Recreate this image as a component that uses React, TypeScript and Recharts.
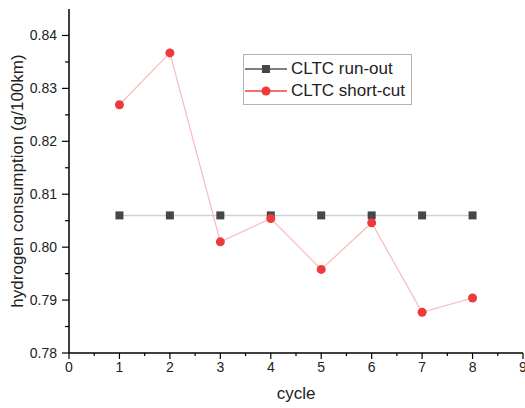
import React from "react";
import { Legend, Line, LineChart, XAxis, YAxis } from "recharts";

// ─── data ────────────────────────────────────────────────────────
const CYCLES = [1, 2, 3, 4, 5, 6, 7, 8];
const RUN_OUT = [0.806, 0.806, 0.806, 0.806, 0.806, 0.806, 0.806, 0.806];
const SHORT_CUT = [0.8269, 0.8367, 0.801, 0.8054, 0.7958, 0.8046, 0.7877, 0.7904];

const X_TICKS = [0, 0.5, 1, 1.5, 2, 2.5, 3, 3.5, 4, 4.5, 5, 5.5, 6, 6.5, 7, 7.5, 8, 8.5, 9];
const Y_TICKS = [
  0.78, 0.785, 0.79, 0.795, 0.8, 0.805, 0.81, 0.815, 0.82, 0.825, 0.83, 0.835, 0.84,
];

const SERIES_NAMES = ["CLTC run-out", "CLTC short-cut"];
const X_TITLE = "cycle";
const Y_TITLE = "hydrogen consumption (g/100km)";

const DATA = CYCLES.map((c, i) => ({ cycle: c, runOut: RUN_OUT[i], shortCut: SHORT_CUT[i] }));

const FONT = "'Liberation Sans', Arial, sans-serif";
const TEXT = "#222";

// 主 / 副 刻度 — 自己画刻度线
const XTick = ({ x, y, payload }: any) => {
  const major = Number.isInteger(payload.value);
  return (
    <g>
      <line x1={x} y1={y} x2={x} y2={y + (major ? 6 : 3)} stroke="#000" strokeWidth={1.2} />
      {major && (
        <text x={x} y={y + 19} textAnchor="middle" fontSize={14} fill={TEXT} fontFamily={FONT}>
          {payload.value}
        </text>
      )}
    </g>
  );
};

const YTick = ({ x, y, payload }: any) => {
  const major = Math.round(payload.value * 1000) % 10 === 0;
  return (
    <g>
      <line x1={x} y1={y} x2={x - (major ? 7 : 4)} y2={y} stroke="#000" strokeWidth={1.2} />
      {major && (
        <text x={x - 12} y={y + 5} textAnchor="end" fontSize={14} fill={TEXT} fontFamily={FONT}>
          {payload.value.toFixed(2)}
        </text>
      )}
    </g>
  );
};

const YTitle = (props: any) => {
  const vb = props.viewBox || { y: 9, height: 344 };
  const cy = vb.y + vb.height / 2;
  return (
    <text
      x={17}
      y={cy}
      transform={`rotate(-90, 17, ${cy})`}
      textAnchor="middle"
      dominantBaseline="central"
      fontSize={17}
      fill={TEXT}
      fontFamily={FONT}
    >
      {Y_TITLE}
    </text>
  );
};

const SquareDot = ({ cx, cy, index }: any) => (
  <rect key={`sq-${index}`} x={cx - 4} y={cy - 4} width={8} height={8} fill="#474747" />
);

const LegendBox = () => (
  <div
    style={{
      width: 167,
      height: 46,
      border: "1px solid #b4b4b4",
      background: "#fff",
      paddingTop: 3,
      boxSizing: "content-box",
      fontFamily: FONT,
      fontSize: 17,
      color: TEXT,
    }}
  >
    {SERIES_NAMES.map((name, i) => (
      <div key={name} style={{ display: "flex", alignItems: "center", height: 22 }}>
        <svg width={42} height={12} style={{ marginLeft: 1 }}>
          <line x1={0} y1={6} x2={42} y2={6} stroke={i === 0 ? "#555" : "#f04040"} strokeWidth={1.5} />
          {i === 0 ? (
            <rect x={17} y={2} width={8} height={8} fill="#474747" />
          ) : (
            <circle cx={21} cy={6} r={4.5} fill="#ee3a3a" />
          )}
        </svg>
        <span style={{ marginLeft: 4, lineHeight: "22px" }}>{name}</span>
      </div>
    ))}
  </div>
);

export default function App() {
  return (
    <div style={{ position: "absolute", left: 0, top: 0, background: "#fff" }}>
      <LineChart width={525} height={408} data={DATA} margin={{ top: 9, right: 2, left: 0, bottom: 0 }}>
        <XAxis
          dataKey="cycle"
          type="number"
          domain={[0, 9]}
          ticks={X_TICKS}
          interval={0}
          tick={<XTick />}
          tickLine={false}
          tickSize={0}
          tickMargin={0}
          height={55}
          axisLine={{ stroke: "#000", strokeWidth: 1.5 }}
          label={{
            value: X_TITLE,
            position: "insideBottom",
            offset: 9,
            fontSize: 17,
            fill: TEXT,
            fontFamily: FONT,
          }}
        />
        <YAxis
          type="number"
          domain={[0.78, 0.845]}
          ticks={Y_TICKS}
          interval={0}
          tick={<YTick />}
          tickLine={false}
          tickSize={0}
          tickMargin={0}
          width={69}
          axisLine={{ stroke: "#000", strokeWidth: 1.5 }}
          allowDataOverflow
          label={(p: any) => <YTitle {...p} />}
        />
        <Legend
          layout="horizontal"
          verticalAlign="middle"
          align="center"
          content={() => <LegendBox />}
          wrapperStyle={{ left: 243, top: 54, width: 169, height: 49 }}
        />
        <Line
          dataKey="runOut"
          name={SERIES_NAMES[0]}
          stroke="#d2d2d2"
          strokeWidth={1.5}
          dot={(p: any) => <SquareDot {...p} />}
          activeDot={false}
          isAnimationActive={false}
        />
        <Line
          dataKey="shortCut"
          name={SERIES_NAMES[1]}
          stroke="#f9baba"
          strokeWidth={1.2}
          dot={{ r: 4.5, fill: "#ee3a3a", stroke: "#ee3a3a", strokeWidth: 0 }}
          activeDot={false}
          isAnimationActive={false}
        />
      </LineChart>
    </div>
  );
}
